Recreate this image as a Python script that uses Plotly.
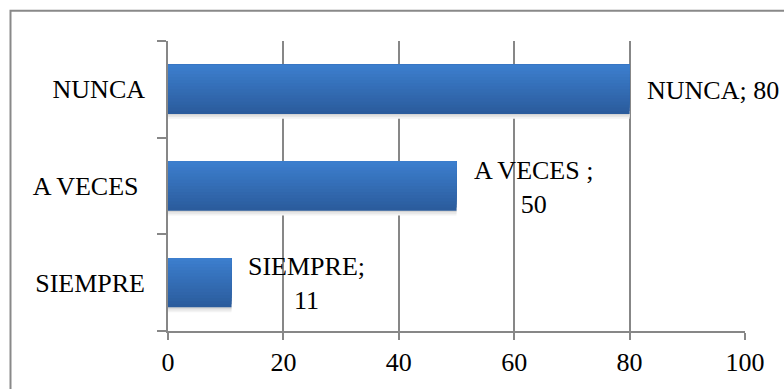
import plotly.graph_objects as go

# Survey answers (bottom to top) and their counts
categories = ["SIEMPRE", "A VECES\u00a0", "NUNCA"]
values = [11, 50, 80]
value_labels = ["SIEMPRE;<br>11", "A VECES\u00a0;<br>50", "NUNCA; 80"]
x_ticks = [0, 20, 40, 60, 80, 100]

FONT = "Liberation Serif, Times New Roman, serif"
GRID = "#878787"

fig = go.Figure()

# soft shadow under each bar
bar_half = 0.255
shadow_cols = ["#f3f3f3", "#e6e6e6", "#d4d4d4"]
sw = 0.018
for i, c in enumerate(shadow_cols):
    start = -bar_half - (len(shadow_cols) - i) * sw + 0.004
    fig.add_trace(go.Bar(
        y=categories, x=values, orientation="h",
        width=bar_half - start, offset=start,
        marker=dict(color=c, line=dict(width=0)),
        hoverinfo="skip", showlegend=False,
    ))

# vertical gradient fill: each layer runs from its start up to the bar top,
# so later (lighter) layers cover earlier ones without seams
n = 16
top = (60, 126, 205)
bot = (43, 92, 157)
w = 2 * bar_half / n
for i in range(n):
    t = i / (n - 1)
    col = tuple(round(bot[k] + (top[k] - bot[k]) * t) for k in range(3))
    start = -bar_half + i * w
    fig.add_trace(go.Bar(
        y=categories, x=values, orientation="h",
        width=bar_half - start, offset=start,
        marker=dict(color="rgb(%d,%d,%d)" % col, line=dict(width=0)),
        hoverinfo="skip", showlegend=False,
    ))

# data labels to the right of each bar
for cat, v, lab in zip(categories, values, value_labels):
    fig.add_annotation(
        x=v, y=cat, xref="x", yref="y", text=lab, showarrow=False,
        xanchor="left", xshift=15, yshift=-1, align="center",
        font=dict(family=FONT, size=26, color="#000000"),
    )

# chart frame
fig.add_shape(
    type="rect", xref="paper", yref="paper",
    x0=(10.5 - 168) / 577, x1=1.2, y0=-0.4, y1=1 + (41 - 10.5) / 292,
    line=dict(color="#898989", width=2), fillcolor="rgba(0,0,0,0)",
)

fig.update_layout(
    width=784, height=389,
    margin=dict(l=168, r=39, t=41, b=56),
    paper_bgcolor="white", plot_bgcolor="white",
    barmode="overlay", showlegend=False,
    font=dict(family=FONT, size=26, color="#000000"),
)
fig.update_xaxes(
    range=[0, 100], tickvals=x_ticks, ticktext=[str(t) for t in x_ticks],
    showgrid=True, gridcolor=GRID, gridwidth=1.6,
    showline=True, linecolor=GRID, linewidth=1.6,
    ticks="outside", ticklen=7, tickcolor=GRID, tickwidth=1.6,
    zeroline=False, fixedrange=True,
)
fig.update_yaxes(
    categoryorder="array", categoryarray=categories,
    showgrid=False, showline=True, linecolor=GRID, linewidth=1.6,
    ticks="outside", tickson="boundaries", ticklen=9, tickcolor=GRID, tickwidth=1.6,
    ticklabelstandoff=16, fixedrange=True,
)

fig.write_html("out.html")
